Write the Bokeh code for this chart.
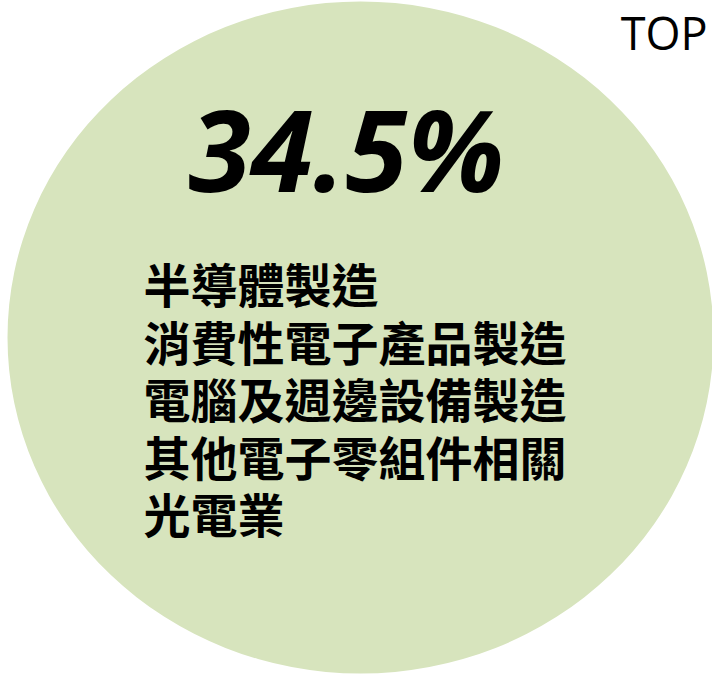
from bokeh.plotting import figure
from bokeh.models import Range1d, ColumnDataSource
from bokeh.core.properties import value
from bokeh.embed import file_html
from bokeh.resources import INLINE

# ---- data ----
rank_label = "TOP"
share_text = "34.5%"
industries = [
    "半導體製造",
    "消費性電子產品製造",
    "電腦及週邊設備製造",
    "其他電子零組件相關",
    "光電業",
]

# ---- figure (data units == pixels) ----
W, H = 712, 678
p = figure(width=W, height=H, output_backend="svg", toolbar_location=None,
           x_range=Range1d(0, W), y_range=Range1d(H, 0),
           min_border=0, background_fill_color=None, border_fill_color=None)
p.axis.visible = False
p.grid.visible = False
p.outline_line_color = None

# background circle
p.ellipse(x=[360], y=[337], width=[706], height=[672],
          fill_color="#D7E4BD", line_color=None)

# TOP label (right-aligned so it stays inside the page)
p.text(x=[707], y=[32], text=[rank_label], text_font=value("Open Sans"),
       text_font_size="45px", text_color="#000000", text_baseline="middle",
       text_align="right")

# big percentage
p.text(x=[188], y=[147], text=[share_text], text_font=value("Open Sans"),
       text_font_size="113px", text_font_style="bold italic", text_color="#000000",
       text_baseline="middle")

# industry list
y0, pitch = 282, 57.5
src = ColumnDataSource(dict(x=[143] * len(industries),
                            y=[y0 + i * pitch for i in range(len(industries))],
                            t=industries))
p.text(x="x", y="y", text="t", source=src, text_font=value("Noto Sans CJK TC"),
       text_font_size="47px", text_font_style="bold", text_color="#000000",
       text_baseline="middle")

open("out.html", "w").write(file_html(p, INLINE))
